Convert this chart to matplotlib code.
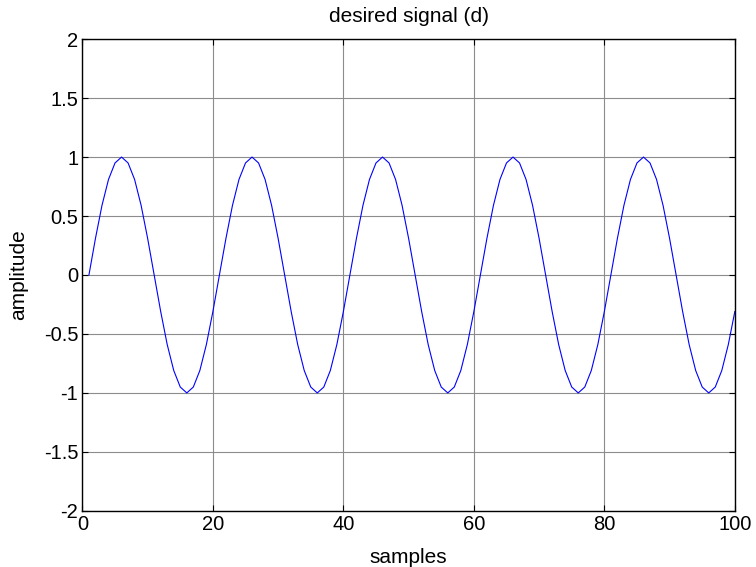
import matplotlib
matplotlib.use("Agg")
import matplotlib.pyplot as plt

plt.rcParams['font.family'] = ['Liberation Sans', 'DejaVu Sans']

samples = list(range(1, 101))
d = [0.00, 0.31, 0.59, 0.81, 0.95, 1.00, 0.95, 0.81, 0.59, 0.31,
     0.00, -0.31, -0.59, -0.81, -0.95, -1.00, -0.95, -0.81, -0.59, -0.31,
     0.00, 0.31, 0.59, 0.81, 0.95, 1.00, 0.95, 0.81, 0.59, 0.31,
     0.00, -0.31, -0.59, -0.81, -0.95, -1.00, -0.95, -0.81, -0.59, -0.31,
     0.00, 0.31, 0.59, 0.81, 0.95, 1.00, 0.95, 0.81, 0.59, 0.31,
     0.00, -0.31, -0.59, -0.81, -0.95, -1.00, -0.95, -0.81, -0.59, -0.31,
     0.00, 0.31, 0.59, 0.81, 0.95, 1.00, 0.95, 0.81, 0.59, 0.31,
     0.00, -0.31, -0.59, -0.81, -0.95, -1.00, -0.95, -0.81, -0.59, -0.31,
     0.00, 0.31, 0.59, 0.81, 0.95, 1.00, 0.95, 0.81, 0.59, 0.31,
     0.00, -0.31, -0.59, -0.81, -0.95, -1.00, -0.95, -0.81, -0.59, -0.31]
xticks = [0, 20, 40, 60, 80, 100]
yticks = [-2, -1.5, -1, -0.5, 0, 0.5, 1, 1.5, 2]
ytick_labels = ["-2", "-1.5", "-1", "-0.5", "0", "0.5", "1", "1.5", "2"]

fig = plt.figure(figsize=(7.56, 5.67), dpi=100)
ax = fig.add_axes([0.109, 0.099, 0.863, 0.832])

ax.plot(samples, d, color="#0000ff", linewidth=0.8)
ax.set_xlim(0, 100)
ax.set_ylim(-2, 2)
ax.set_xticks(xticks)
ax.set_yticks(yticks)
ax.set_yticklabels(ytick_labels)
ax.grid(True, color="#8c8c8c", linewidth=0.8)
ax.set_axisbelow(True)
ax.tick_params(direction="in", length=4, width=0.8, labelsize=14.5, top=True, right=True, pad=3)
for s in ax.spines.values():
    s.set_linewidth(1.0)

ax.set_title("desired signal (d)", fontsize=15, pad=12)
ax.set_xlabel("samples", fontsize=15, labelpad=10)
ax.set_ylabel("amplitude", fontsize=15, labelpad=11)

fig.savefig("out.png", dpi=100)
